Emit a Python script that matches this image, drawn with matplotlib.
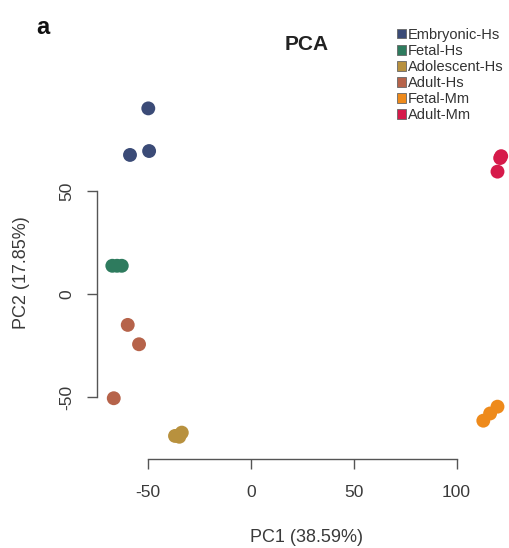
import matplotlib.pyplot as plt
from matplotlib.patches import Patch

plt.rcParams["font.family"] = ["Liberation Sans", "DejaVu Sans"]
plt.rcParams["axes.unicode_minus"] = False

groups = ["Embryonic-Hs", "Fetal-Hs", "Adolescent-Hs", "Adult-Hs", "Fetal-Mm", "Adult-Mm"]
colors = ["#3b4b77", "#2e7b5e", "#b8913e", "#b6634a", "#ee8a1b", "#d61a4a"]

pc1 = {
    "Embryonic-Hs": [-50.0, -58.9, -49.6],
    "Fetal-Hs": [-67.5, -65.2, -62.9],
    "Adolescent-Hs": [-37.0, -33.7, -34.9],
    "Adult-Hs": [-60.0, -54.5, -66.8],
    "Fetal-Mm": [113.0, 116.3, 119.9],
    "Adult-Mm": [121.2, 119.9, 121.7],
}
pc2 = {
    "Embryonic-Hs": [90.1, 67.5, 69.4],
    "Fetal-Hs": [13.7, 13.7, 13.7],
    "Adolescent-Hs": [-68.9, -67.3, -69.3],
    "Adult-Hs": [-15.0, -24.4, -50.6],
    "Fetal-Mm": [-61.5, -58.0, -54.7],
    "Adult-Mm": [66.0, 59.4, 66.9],
}

W, H = 509, 548
fig = plt.figure(figsize=(W / 100, H / 100), dpi=100)
ax = fig.add_axes([96.7 / W, 89 / H, (W - 96.7) / W, (459 - 95) / H])

for g, c in zip(groups, colors):
    ax.scatter(pc1[g], pc2[g], s=100, color=c, edgecolors="none", clip_on=False, zorder=3)

ax.set_xlim(-75.1, 125.5)
ax.set_ylim(-80.1, 96.6)
ax.set_xticks([-50, 0, 50, 100])
ax.set_yticks([-50, 0, 50])
ax.set_yticklabels(["-50", "0", "50"], rotation=90, va="center")

for side in ["top", "right"]:
    ax.spines[side].set_visible(False)
ax.spines["left"].set_bounds(-50, 50)
ax.spines["bottom"].set_bounds(-50, 100)
for side in ["left", "bottom"]:
    ax.spines[side].set_color("#555555")
    ax.spines[side].set_linewidth(1.0)
ax.tick_params(direction="out", length=7, width=1.0, color="#555555",
               labelsize=12.5, labelcolor="#3a3a3a", pad=12)
ax.tick_params(axis="y", pad=9)

fig.text(307 / W, 1 - 537 / H, "PC1 (38.59%)", ha="center", va="center", fontsize=13, color="#3a3a3a")
fig.text(22 / W, 1 - 273 / H, "PC2 (17.85%)", ha="center", va="center", rotation=90,
         fontsize=13, color="#3a3a3a")
fig.text(307 / W, 1 - 44 / H, "PCA", ha="center", va="center", fontsize=15,
         fontweight="bold", color="#222222")
fig.text(43 / W, 1 - 27 / H, "a", ha="center", va="center", fontsize=17,
         fontweight="bold", color="#111111")

handles = [Patch(facecolor=c, edgecolor="#666666", linewidth=0.6, label=g)
           for g, c in zip(groups, colors)]
fig.legend(handles=handles, loc="upper left", bbox_to_anchor=(397 / W, 1 - 28 / H),
           frameon=False, fontsize=10.5, handlelength=0.6, handleheight=0.6,
           handletextpad=0.15, labelspacing=0.14, borderaxespad=0, borderpad=0,
           labelcolor="#333333")

fig.savefig("out.png", dpi=100)
